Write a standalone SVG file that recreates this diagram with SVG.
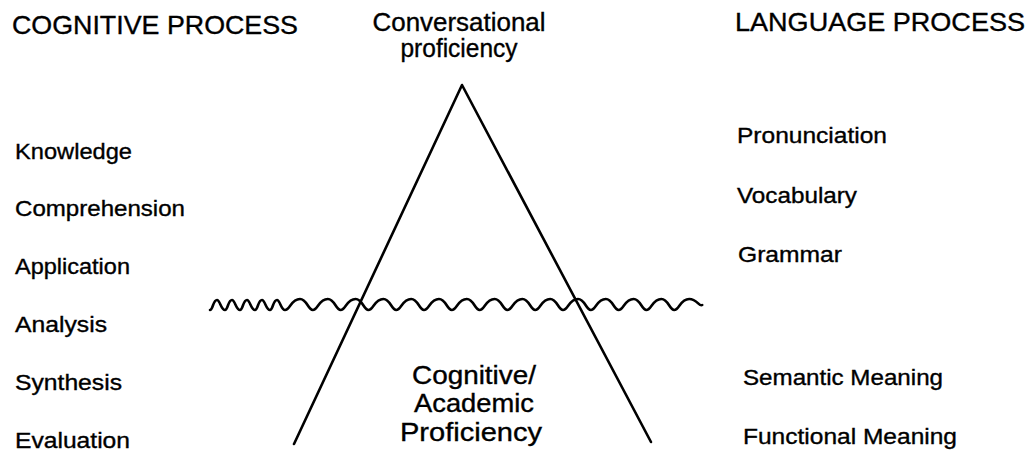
<svg xmlns="http://www.w3.org/2000/svg" width="1032" height="453" viewBox="0 0 1032 453">
<style>
text{font-family:"Liberation Sans",Arial,sans-serif;fill:#000;stroke:#000;stroke-width:0.35}
.hd{font-size:26px}
.it{font-size:22px}
.ct{font-size:25px;text-anchor:middle}
.ln{fill:none;stroke:#000;stroke-width:2.6;stroke-linecap:round;stroke-linejoin:round}
</style>
<rect width="1032" height="453" fill="#fff"/>
<g id="connectors">
<path class="ln" d="M294,444 L462,85 L651,442"/>
<path id="wave" class="ln" d="M210,310
c3,0 3,-10 7,-10 c3,0 4,10 8,10 c3,0 3,-10 7,-10 c3,0 4,10 8,10 c3,0 3,-10 7,-10 c3,0 4,10 8,10 c3,0 3,-10 7,-10 c3,0 4,10 8,10 c3,0 3,-10 7,-10 c3,0 4,10 8,10
c5,0 6,-11 15,-11 c7,0 8,11 12.8,11
c5,0 6,-11 15,-11 c7,0 8,11 12.8,11
c5,0 6,-11 15,-11 c7,0 8,11 12.8,11
c5,0 6,-11 15,-11 c7,0 8,11 12.8,11
c5,0 6,-11 15,-11 c7,0 8,11 12.8,11
c5,0 6,-11 15,-11 c7,0 8,11 12.8,11
c5,0 6,-11 15,-11 c7,0 8,11 12.8,11
c5,0 6,-11 15,-11 c7,0 8,11 12.8,11
c5,0 6,-11 15,-11 c7,0 8,11 12.8,11
c5,0 6,-11 15,-11 c7,0 8,11 12.8,11
c5,0 6,-11 15,-11 c7,0 8,11 12.8,11
c5,0 6,-11 15,-11 c7,0 8,11 12.8,11
c5,0 6,-11 15,-11 c7,0 8,11 12.8,11
c5,0 6,-11 15,-11 c7,0 8,11 12.8,11
c5,0 6,-11 15,-11 c8,0 10,8 13,6"/>
</g>
<g id="cognitive-process">
<text class="hd" x="12" y="34" textLength="286" lengthAdjust="spacingAndGlyphs">COGNITIVE PROCESS</text>
</g>
<g id="language-process">
<text class="hd" x="735" y="31" textLength="290" lengthAdjust="spacingAndGlyphs">LANGUAGE PROCESS</text>
</g>
<g id="conversational">
<text class="ct" x="459" y="31" textLength="173" lengthAdjust="spacingAndGlyphs">Conversational</text>
<text class="ct" x="459" y="57" textLength="117" lengthAdjust="spacingAndGlyphs">proficiency</text>
</g>
<g id="academic">
<text class="ct" x="474" y="384" textLength="124" lengthAdjust="spacingAndGlyphs">Cognitive/</text>
<text class="ct" x="474" y="412" textLength="120" lengthAdjust="spacingAndGlyphs">Academic</text>
<text class="ct" x="471" y="441" textLength="142" lengthAdjust="spacingAndGlyphs">Proficiency</text>
</g>
<g id="knowledge"><text class="it" x="15" y="159" textLength="117" lengthAdjust="spacingAndGlyphs">Knowledge</text></g>
<g id="comprehension"><text class="it" x="15" y="216" textLength="170" lengthAdjust="spacingAndGlyphs">Comprehension</text></g>
<g id="application"><text class="it" x="15" y="274" textLength="115" lengthAdjust="spacingAndGlyphs">Application</text></g>
<g id="analysis"><text class="it" x="15" y="332" textLength="92" lengthAdjust="spacingAndGlyphs">Analysis</text></g>
<g id="synthesis"><text class="it" x="15" y="390" textLength="107" lengthAdjust="spacingAndGlyphs">Synthesis</text></g>
<g id="evaluation"><text class="it" x="15" y="448" textLength="115" lengthAdjust="spacingAndGlyphs">Evaluation</text></g>
<g id="pronunciation"><text class="it" x="737" y="143" textLength="150" lengthAdjust="spacingAndGlyphs">Pronunciation</text></g>
<g id="vocabulary"><text class="it" x="737" y="203" textLength="120" lengthAdjust="spacingAndGlyphs">Vocabulary</text></g>
<g id="grammar"><text class="it" x="738" y="262" textLength="104" lengthAdjust="spacingAndGlyphs">Grammar</text></g>
<g id="semantic"><text class="it" x="743" y="385" textLength="200" lengthAdjust="spacingAndGlyphs">Semantic Meaning</text></g>
<g id="functional"><text class="it" x="743" y="444" textLength="214" lengthAdjust="spacingAndGlyphs">Functional Meaning</text></g>
</svg>
